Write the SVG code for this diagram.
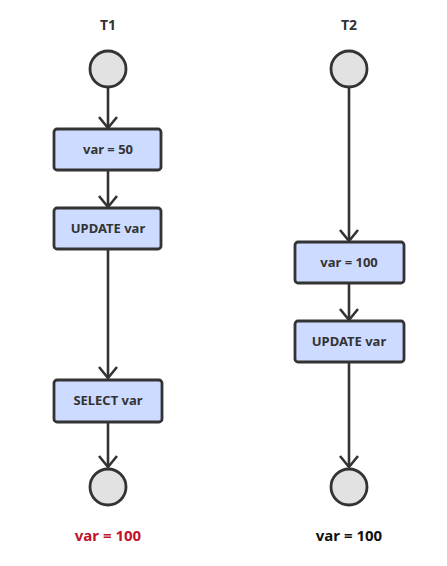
<svg xmlns="http://www.w3.org/2000/svg" width="447" height="566" viewBox="0 0 447 566">
<style>
.c{fill:#e2e2e2;stroke:#333;stroke-width:2.8}
.b{fill:#ccdbff;stroke:#333;stroke-width:2.8}
.t{font-family:"Noto Sans","DejaVu Sans",sans-serif;font-weight:bold;font-size:13px;fill:#333;text-anchor:middle}
.h{font-family:"Noto Sans","DejaVu Sans",sans-serif;font-weight:bold;font-size:14px;fill:#333;text-anchor:middle}
.r{font-family:"Noto Sans","DejaVu Sans",sans-serif;font-weight:bold;font-size:15px;text-anchor:middle}
.e{fill:none;stroke:#333;stroke-width:2.6}
</style>
<defs>
<marker id="a" markerUnits="userSpaceOnUse" markerWidth="20" markerHeight="22" viewBox="0 0 20 22" refX="13" refY="11" orient="auto">
<path d="M2,2 L13,11 L2,20" fill="none" stroke="#333" stroke-width="2.6"/>
</marker>
</defs>
<text class="h" x="108" y="30">T1</text>
<text class="h" x="349" y="30">T2</text>
<g id="edges">
<line class="e" x1="108" y1="88" x2="108" y2="128" marker-end="url(#a)"/>
<line class="e" x1="108" y1="170" x2="108" y2="207" marker-end="url(#a)"/>
<line class="e" x1="108" y1="249" x2="108" y2="378" marker-end="url(#a)"/>
<line class="e" x1="108" y1="422" x2="108" y2="467" marker-end="url(#a)"/>
<line class="e" x1="349" y1="88" x2="349" y2="241" marker-end="url(#a)"/>
<line class="e" x1="349" y1="283" x2="349" y2="320" marker-end="url(#a)"/>
<line class="e" x1="349" y1="362" x2="349" y2="467" marker-end="url(#a)"/>
</g>
<g id="t1start"><circle class="c" cx="108" cy="69" r="18"/></g>
<g id="t1set"><rect class="b" x="54" y="129" width="107" height="41" rx="3"/><text class="t" x="108" y="154">var = 50</text></g>
<g id="t1update"><rect class="b" x="54" y="208" width="107" height="41" rx="3"/><text class="t" x="108" y="233">UPDATE var</text></g>
<g id="t1select"><rect class="b" x="54" y="380" width="108" height="42" rx="3"/><text class="t" x="108" y="405">SELECT var</text></g>
<g id="t1end"><circle class="c" cx="108" cy="487" r="18"/></g>
<g id="t2start"><circle class="c" cx="349" cy="69" r="18"/></g>
<g id="t2set"><rect class="b" x="295" y="242" width="109" height="41" rx="3"/><text class="t" x="349" y="267">var = 100</text></g>
<g id="t2update"><rect class="b" x="295" y="321" width="109" height="41" rx="3"/><text class="t" x="349" y="346">UPDATE var</text></g>
<g id="t2end"><circle class="c" cx="349" cy="487" r="18"/></g>
<text class="r" x="108" y="541" fill="#c3122a">var = 100</text>
<text class="r" x="349" y="541" fill="#111">var = 100</text>
</svg>
